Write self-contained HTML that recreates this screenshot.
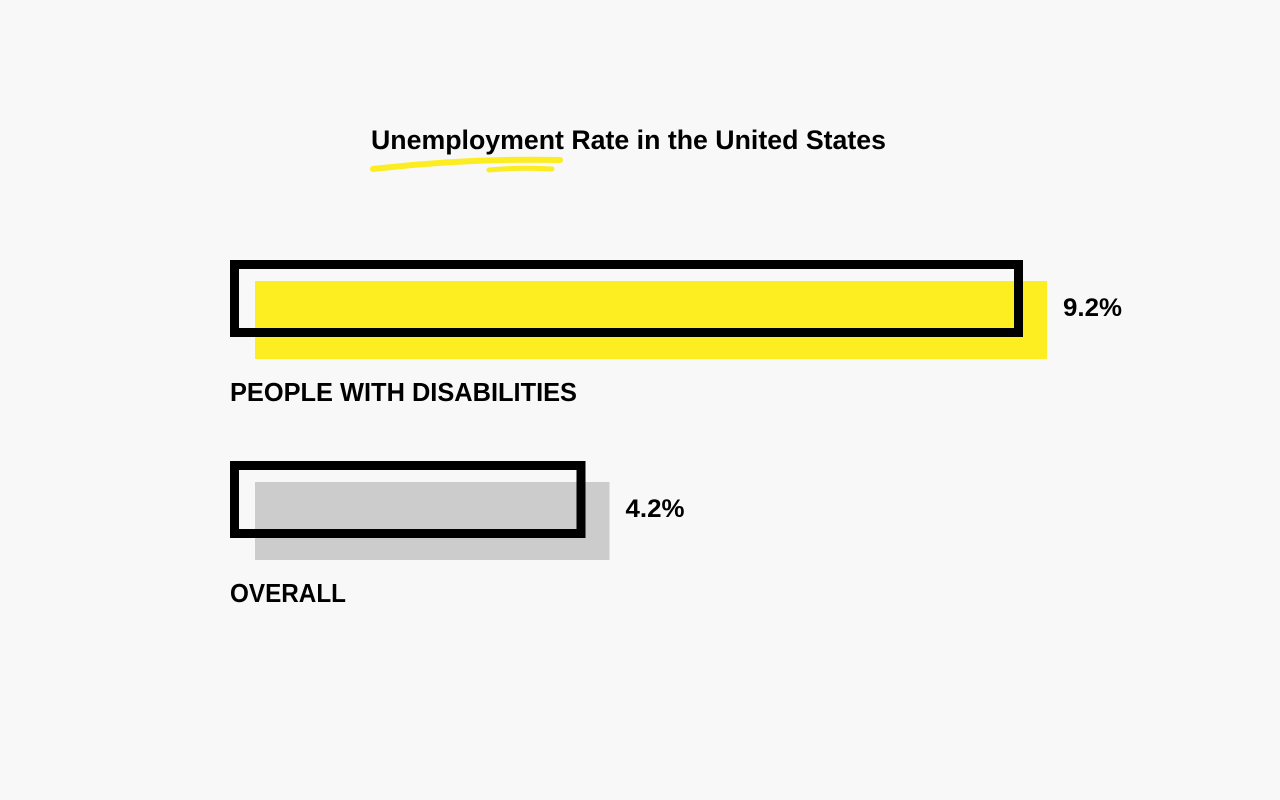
<!DOCTYPE html>
<html><head><meta charset="utf-8"><style>
html,body{margin:0;padding:0;background:#f8f8f8;}
svg{display:block;font-family:"Liberation Sans",Arial,sans-serif;font-weight:bold;}
</style></head><body>
<svg id="chart" width="1280" height="800" viewBox="0 0 1280 800">
<rect width="1280" height="800" fill="#f8f8f8"/>
<text x="371" y="149" font-size="27" textLength="515" lengthAdjust="spacingAndGlyphs" fill="#000">Unemployment Rate in the United States</text>
<path d="M373 169 Q470 158 560 160" stroke="#fcec22" stroke-width="6" fill="none" stroke-linecap="round"/>
<path d="M489 170 Q520 167 552 169" stroke="#fcec22" stroke-width="5" fill="none" stroke-linecap="round"/>
<g id="bars"></g>
</svg>
<script>
const categories = ["PEOPLE WITH DISABILITIES", "OVERALL"];
const values = [9.2, 4.2];
const valueLabels = ["9.2%", "4.2%"];
const fills = ["#fdee21", "#cccccc"];
const x0 = 230, scale = 87.5;
const xs = v => v * scale - 12;
const ns = "http://www.w3.org/2000/svg";
const g = document.getElementById('bars');
const rowTop = [260, 461];
categories.forEach((c, i) => {
  const w = xs(values[i]);
  const y = rowTop[i];
  const f = document.createElementNS(ns, 'rect');
  f.setAttribute('x', x0 + 25); f.setAttribute('y', y + 21);
  f.setAttribute('width', w - 1); f.setAttribute('height', 78);
  f.setAttribute('fill', fills[i]);
  
  
  g.appendChild(f);
  const o = document.createElementNS(ns, 'rect');
  o.setAttribute('x', x0 + 4.5); o.setAttribute('y', y + 4.5);
  o.setAttribute('width', w - 9); o.setAttribute('height', 68);
  o.setAttribute('fill', 'none'); o.setAttribute('stroke', '#000'); o.setAttribute('stroke-width', 9);
  
  
  g.appendChild(o);
  const t = document.createElementNS(ns, 'text');
  t.setAttribute('x', x0 + 25 + w + 15); t.setAttribute('y', y + 56);
  t.setAttribute('font-size', '25');
  t.setAttribute('textLength', 59);
  t.setAttribute('lengthAdjust', 'spacingAndGlyphs');
  t.textContent = valueLabels[i];
  
  
  g.appendChild(t);
  const l = document.createElementNS(ns, 'text');
  l.setAttribute('x', x0); l.setAttribute('y', y + 141);
  l.setAttribute('font-size', '26');
  l.setAttribute('textLength', i === 0 ? 347 : 116);
  l.setAttribute('lengthAdjust', 'spacingAndGlyphs');
  l.textContent = c;
  
  
  g.appendChild(l);
});
</script>
</body></html>
